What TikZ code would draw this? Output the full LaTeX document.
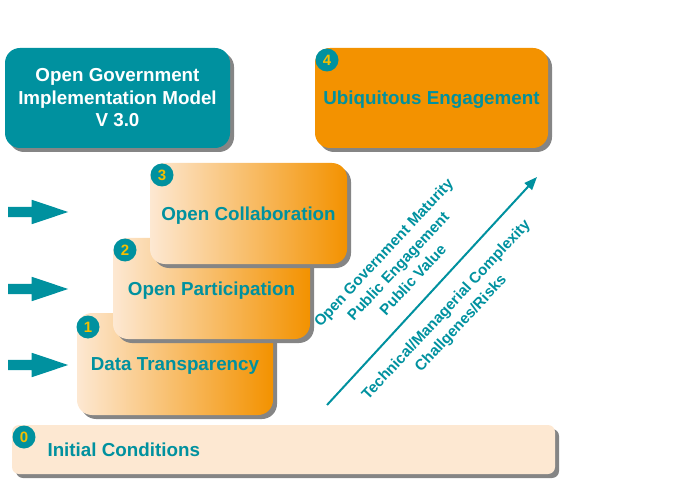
\documentclass[tikz,border=0pt]{standalone}
\usepackage{fontspec}
\setmainfont{Liberation Sans}
\usetikzlibrary{arrows.meta,positioning,calc,shadows,shapes.arrows}

\definecolor{ogteal}{HTML}{00919F}
\definecolor{ogorange}{HTML}{F39200}
\definecolor{ogpeach}{HTML}{FDE8D2}
\definecolor{oggold}{HTML}{F5BE00}

\begin{document}
\begin{tikzpicture}[x=1pt, y=-1pt,
    box/.style={rounded corners=15pt, outer sep=0pt, inner sep=0pt, align=center,
      font=\fontsize{18.8pt}{22.5pt}\selectfont\bfseries,
      drop shadow={shadow xshift=4pt, shadow yshift=-4pt, fill=black!48, opacity=1}},
    stagebox/.style={box, left color=ogpeach, right color=ogorange, text=ogteal,
      text depth=0pt, minimum width=197pt, minimum height=101pt, anchor=north west},
    numdot/.style={circle, fill=ogteal, text=oggold, minimum size=23pt, inner sep=0pt,
      font=\fontsize{15pt}{15pt}\selectfont\bfseries},
    pusharrow/.style={single arrow, fill=ogteal, draw=none, inner sep=5pt,
      single arrow head extend=7pt, single arrow tip angle=37, minimum height=60pt,
      anchor=tail},
    slantlabel/.style={rotate=47, text=ogteal, align=center,
      font=\fontsize{15.2pt}{20pt}\selectfont\bfseries}
  ]
  \useasboundingbox (0,0) rectangle (680,481);

  % title and target level
  \node (title) [box, fill=ogteal, text=white, minimum width=225pt, minimum height=100pt,
    anchor=north west] at (5,48) {Open Government\\Implementation Model\\V 3.0};
  \node (ubiq) [box, fill=ogorange, text=ogteal, text depth=-1pt, minimum width=233pt,
    minimum height=100pt, anchor=north west] at (315,48) {Ubiquitous Engagement};
  \node (n4) [numdot] at ($(ubiq.north west)+(12,12)$) {4};

  % the three stairs
  \node (transp) [stagebox, minimum width=196pt, minimum height=102pt] at (77,313) {Data Transparency};
  \node (n1) [numdot] at ($(transp.north west)+(11,14)$) {1};
  \node (partic) [stagebox] at (113,238) {Open Participation};
  \node (n2) [numdot] at ($(partic.north west)+(12,12)$) {2};
  \node (collab) [stagebox] at (150,163) {Open Collaboration};
  \node (n3) [numdot] at ($(collab.north west)+(12,12)$) {3};

  % base level
  \node (initial) [box, rounded corners=7pt, fill=ogpeach, minimum width=543pt, minimum height=49pt,
    anchor=north west] at (12,425) {};
  \node (n0) [numdot] at ($(initial.north west)+(12,12)$) {0};
  \node (initlabel) [anchor=west, text=ogteal, font=\fontsize{18.8pt}{22pt}\selectfont\bfseries]
    at (44,450) {Initial Conditions};

  % arrows pointing at the stairs
  \node (push3) [pusharrow] at (8,212) {};
  \node (push2) [pusharrow] at (8,289) {};
  \node (push1) [pusharrow] at (8,365) {};

  % growth arrow
  \coordinate (growstart) at (327,405);
  \coordinate (growend) at (537,177);
  \draw[-{Triangle[length=13pt, width=10pt]}, line width=2pt, ogteal] (growstart) -- (growend);

  \node (maturity) [slantlabel] at (398,266) {Open Government Maturity\\Public Engagement\\Public Value};
  \node (complexity) [slantlabel] at (454,317) {Technical/Managerial Complexity\\Challgenes/Risks};
\end{tikzpicture}
\end{document}
